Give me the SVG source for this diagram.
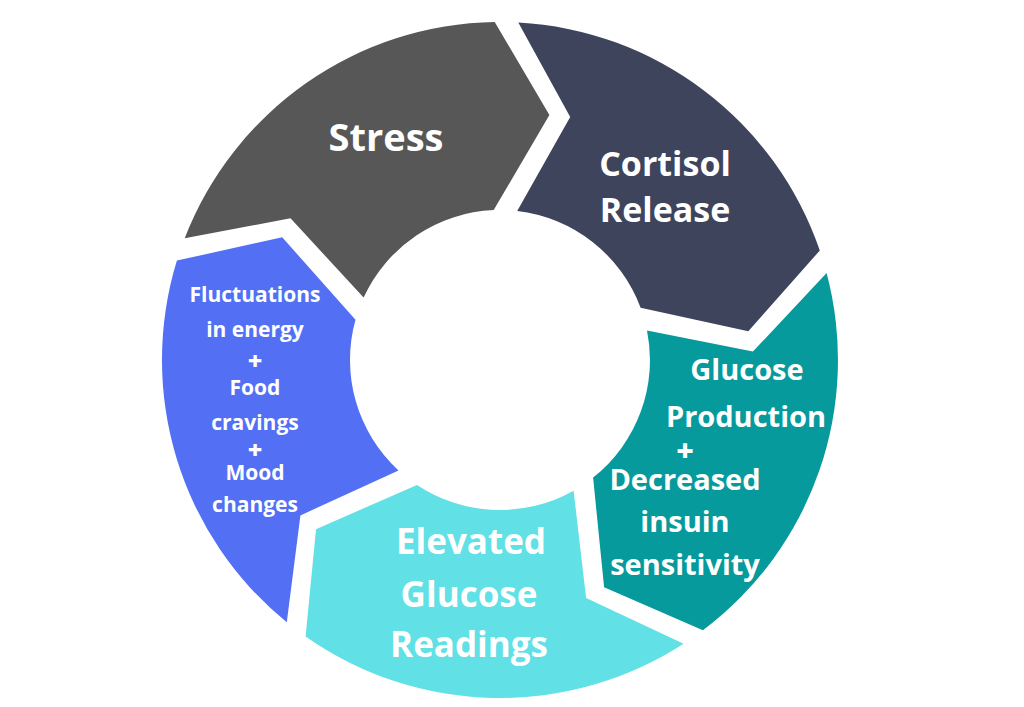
<svg xmlns="http://www.w3.org/2000/svg" width="1024" height="707" viewBox="0 0 1024 707">
<style>
.lbl{font-family:"Open Sans","Noto Sans","Liberation Sans",sans-serif;font-weight:700;fill:#ffffff;text-anchor:middle}
.plus{font-family:"Open Sans","Noto Sans","Liberation Sans",sans-serif;font-weight:800;fill:#ffffff;text-anchor:middle}
</style>
<rect width="1024" height="707" fill="#ffffff"/>
<g id="node-stress">
<path d="M184.7,238.3 A338,338 0 0 1 494.7,22 L549.4,114.9 L493.7,210.1 A150,150 0 0 0 363.6,297.6 L290.5,218.2 Z" fill="#575757"/>
<text class="lbl" x="386" y="151" font-size="38">Stress</text>
</g>
<g id="node-cortisol">
<path d="M518.3,22.5 A338,338 0 0 1 819.8,250.5 L748.3,331.3 L640.6,307.7 A150,150 0 0 0 517.2,211 L570.2,116.9 Z" fill="#3e445b"/>
<text class="lbl" font-size="34"><tspan x="665" y="176">Cortisol</tspan><tspan x="665" y="222">Release</tspan></text>
</g>
<g id="node-glucose-production">
<path d="M826.6,273.1 A338,338 0 0 1 702.9,630.3 L604.1,587.3 L593.1,477.6 A150,150 0 0 0 647,330.4 L752.9,351.6 Z" fill="#079a9c"/>
<text class="lbl" font-size="29"><tspan x="747" y="380">Glucose</tspan><tspan x="746" y="427">Production</tspan><tspan x="685" y="490">Decreased</tspan><tspan x="685" y="532">insuin</tspan><tspan x="685" y="575">sensitivity</tspan></text>
<text class="plus" x="685" y="461" font-size="30">+</text>
</g>
<g id="node-elevated">
<path d="M683.6,643.8 A338,338 0 0 1 305.6,636.5 L316,529.2 L417,484.9 A150,150 0 0 0 573.6,490.7 L586.1,597.9 Z" fill="#61e0e5"/>
<text class="lbl" font-size="35"><tspan x="471" y="554">Elevated</tspan><tspan x="469" y="607">Glucose</tspan><tspan x="469" y="657">Readings</tspan></text>
</g>
<g id="node-fluctuations">
<path d="M286.8,622.3 A338,338 0 0 1 176.9,260.6 L282.2,237.3 L355.5,319.7 A150,150 0 0 0 398.5,470.4 L300.4,515.4 Z" fill="#5370f5"/>
<text class="lbl" font-size="21"><tspan x="255" y="302">Fluctuations</tspan><tspan x="255" y="337">in energy</tspan><tspan x="255" y="395">Food</tspan><tspan x="255" y="430">cravings</tspan><tspan x="255" y="480">Mood</tspan><tspan x="255" y="512">changes</tspan></text>
<text class="plus" x="255" y="370" font-size="25">+</text>
<text class="plus" x="255" y="459" font-size="25">+</text>
</g>
<g id="connectors"></g>
</svg>
